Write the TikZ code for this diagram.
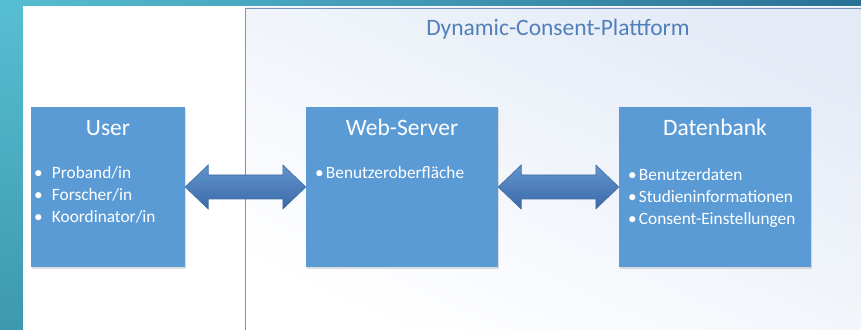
\documentclass[tikz,border=0pt]{standalone}
\usepackage{fontspec}
\setmainfont{Carlito}
\usetikzlibrary{calc,shadows}

\definecolor{tealL}{RGB}{86,190,210}
\definecolor{tealR}{RGB}{42,112,150}
\definecolor{tealB}{RGB}{62,152,175}
\definecolor{platfill}{RGB}{228,235,246}
\definecolor{platline}{RGB}{118,150,192}
\definecolor{titleblue}{RGB}{80,128,186}
\definecolor{boxblue}{RGB}{91,155,213}
\definecolor{arrowtop}{RGB}{98,148,205}
\definecolor{arrowbot}{RGB}{58,106,168}
\definecolor{arrowline}{RGB}{62,108,160}

\begin{document}
\begin{tikzpicture}[x=1pt,y=1pt,
  box/.style={fill=boxblue, minimum width=192pt, minimum height=160pt, inner sep=0pt,
    drop shadow={shadow xshift=1pt, shadow yshift=-2pt, opacity=0.25}},
  boxtitle/.style={text=white, font=\fontsize{23.5}{27}\selectfont},
  boxlist/.style={text=white, font=\fontsize{17.3}{22}\selectfont, align=left,
    anchor=north west, inner sep=0pt},
  fatarrow/.style={draw=arrowline, line width=0.6pt, top color=arrowtop, bottom color=arrowbot}]

\useasboundingbox (0,0) rectangle (861,329);

\shade[left color=tealL, right color=tealR] (0,323) rectangle (861,329);
\shade[top color=tealL, bottom color=tealB] (0,0) rectangle (23,323);
\fill[white] (23,0) rectangle (861,323);

\coordinate (P1) at (245,321);
\coordinate (P2) at (870,-10);

\shade[top color=platfill, bottom color=white, shading angle=-25] (P1) rectangle (P2);
\draw[platline, line width=0.8pt] (P1) rectangle (P2);

\node[text=titleblue, font=\fontsize{23.5}{27}\selectfont] (platform) at (558,300) {Dynamic-Consent-Plattform};

\node[box, minimum width=154pt] (user) at (108,142) {};
\node[box] (web) at (402,142) {};
\node[box] (db) at (715,142) {};

\node[boxtitle] (usertitle) at ($(user.north)+(0,-21)$) {User};
\node[boxtitle] (webtitle) at ($(web.north)+(0,-21)$) {Web-Server};
\node[boxtitle] (dbtitle) at ($(db.north)+(0,-21)$) {Datenbank};

\node[boxlist] (userlist) at ($(user.north west)+(3,-59)$)
  {\makebox[18pt][l]{\textbullet}Proband/in\\ \makebox[18pt][l]{\textbullet}Forscher/in\\ \makebox[18pt][l]{\textbullet}Koordinator/in};
\node[boxlist] (weblist) at ($(web.north west)+(9,-59)$)
  {\makebox[11pt][l]{\textbullet}Benutzeroberfläche};
\node[boxlist] (dblist) at ($(db.north west)+(9,-61)$)
  {\makebox[11pt][l]{\textbullet}Benutzerdaten\\ \makebox[11pt][l]{\textbullet}Studieninformationen\\ \makebox[11pt][l]{\textbullet}Consent-Einstellungen};

\foreach \a/\b in {user/web, web/db}
{
  \draw[fatarrow] (\a.east) -- ++(23,22) -- ++(0,-10) -- ($(\b.west)+(-23,12)$) -- ++(0,10)
    -- (\b.west) -- ++(-23,-22) -- ++(0,10) -- ($(\a.east)+(23,-12)$) -- ++(0,-10) -- cycle;
}

\end{tikzpicture}
\end{document}
